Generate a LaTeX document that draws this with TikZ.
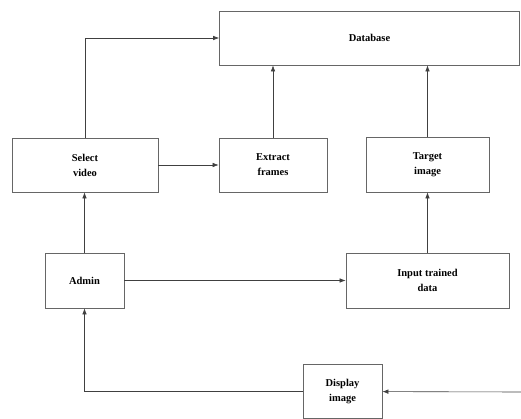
\documentclass[tikz,border=0pt]{standalone}
\usepackage{fontspec}
\setmainfont{Liberation Serif}
\usetikzlibrary{arrows.meta, calc}
\tikzset{
	blockbox/.style={
		draw=black!60, line width=0.7pt, align=center, inner sep=2pt,
		font=\fontsize{10.5}{15}\selectfont\bfseries
	},
	flowarrow/.style={
		draw=black!75, line width=0.6pt, -{Latex[length=6pt,width=4.5pt]}
	}
}

\begin{document}
\begin{tikzpicture}[x=1pt, y=-1pt]
	\useasboundingbox (0,0) rectangle (521,419);
	\node[blockbox, minimum width=300pt, minimum height=54pt] (db) at (369.5,38) {Database};
	\node[blockbox, minimum width=146pt, minimum height=54pt] (sel) at (85,165) {Select\\video};
	\node[blockbox, minimum width=108pt, minimum height=54pt] (ext) at (273,165) {Extract\\frames};
	\node[blockbox, minimum width=123pt, minimum height=55pt] (tgt) at (427.5,164.5) {Target\\image};
	\node[blockbox, minimum width=79pt, minimum height=55pt] (adm) at (84.5,280.5) {Admin};
	\node[blockbox, minimum width=163pt, minimum height=55pt] (inp) at (427.5,280.5) {Input trained\\data};
	\node[blockbox, minimum width=79pt, minimum height=54pt] (disp) at (342.5,391.5) {Display\\image};
	\coordinate (feed) at (521,392);
	% links
	\draw[flowarrow] (sel.north) |- (db.west);
	\draw[flowarrow] (sel) -- (ext);
	\draw[flowarrow] (ext.north) -- (ext.north |- db.south);
	\draw[flowarrow] (tgt.north) -- (tgt.north |- db.south);
	\draw[flowarrow] (inp) -- (tgt);
	\draw[flowarrow] (adm.north) -- (adm.north |- sel.south);
	\draw[flowarrow] (adm) -- (inp);
	\draw[flowarrow] (disp.west) -| (adm.south);
	\draw[flowarrow] (feed) -- (disp);
\end{tikzpicture}
\end{document}
